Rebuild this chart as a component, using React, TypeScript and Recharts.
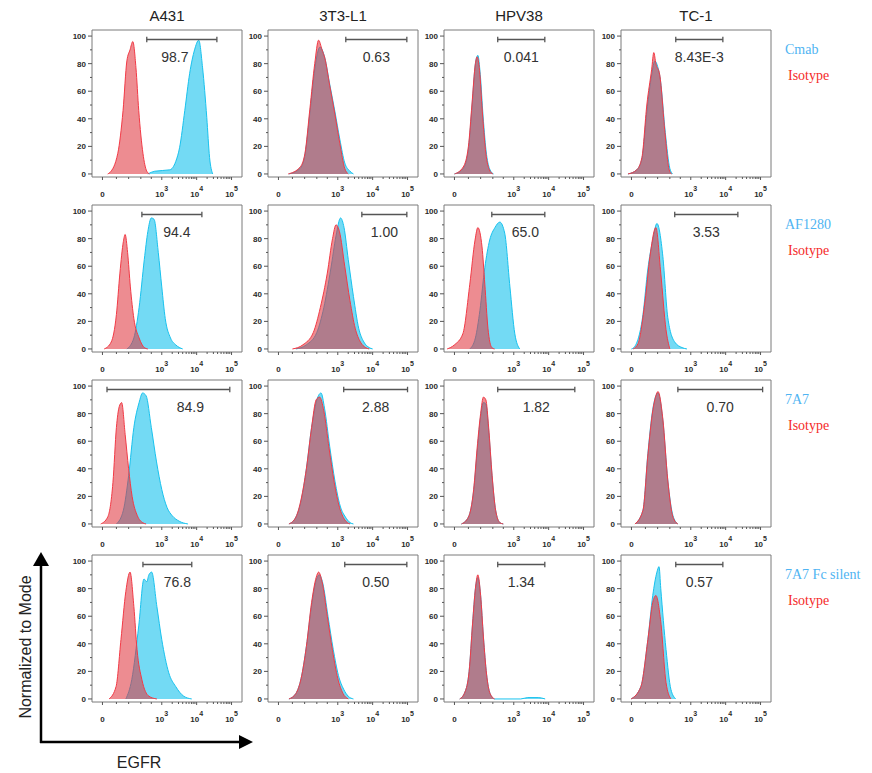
import React from 'react';
import { ComposedChart, Area, XAxis, YAxis, ReferenceLine, ReferenceArea } from 'recharts';

type Pt = [number, number];

const cellLines = ['A431', '3T3-L1', 'HPV38', 'TC-1'];
const antibodies = ['Cmab', 'AF1280', '7A7', '7A7 Fc silent'];
const isotypeName = 'Isotype';

// x is in log-decade display units (biexponential: "0" sits near 1.3)
const xTicks = [1.3, 3, 4, 5];
const xTickLabels = ['0', '10^3', '10^4', '10^5'];
const xMinorTicks = [1.7, 2.05, 2.4, 2.7, 3.3, 3.48, 3.6, 3.7, 3.78, 3.85, 3.9, 3.95, 4.3, 4.48, 4.6, 4.7, 4.78, 4.85, 4.9, 4.95];
const yTicks = [0, 10, 20, 30, 40, 50, 60, 70, 80, 90, 100];

// stained (blue) and isotype (red) histograms, one per cell line
const cmabStained: Pt[][] = [
  [[2.6, 0], [2.8, 2], [3.23, 3], [3.4, 9], [3.51, 19], [3.66, 46], [3.8, 73], [3.94, 90], [4.06, 97], [4.17, 77], [4.29, 41], [4.37, 12], [4.46, 0]],
  [[1.6, 0], [1.92, 4], [2.06, 14], [2.2, 44], [2.34, 76], [2.49, 92], [2.63, 84], [2.77, 65], [2.92, 45], [3.06, 25], [3.2, 8], [3.35, 2], [3.45, 0]],
  [[1.3, 0], [1.55, 4], [1.7, 18], [1.8, 48], [1.9, 80], [1.97, 86], [2.04, 72], [2.12, 42], [2.22, 14], [2.32, 3], [2.42, 0]],
  [[1.2, 0], [1.45, 3], [1.6, 11], [1.74, 45], [1.88, 72], [1.97, 82], [2.05, 78], [2.13, 68], [2.27, 30], [2.4, 4], [2.48, 0]],
];
const cmabIsotype: Pt[][] = [
  [[1.45, 0], [1.51, 1], [1.74, 15], [1.89, 46], [2.0, 82], [2.09, 90], [2.17, 96], [2.26, 77], [2.34, 46], [2.46, 15], [2.57, 2], [2.65, 0]],
  [[1.58, 0], [1.92, 5], [2.06, 15], [2.2, 47], [2.34, 80], [2.45, 97], [2.55, 90], [2.63, 84], [2.77, 64], [2.92, 43], [3.06, 22], [3.2, 4], [3.3, 0]],
  [[1.3, 0], [1.55, 5], [1.7, 20], [1.8, 50], [1.9, 80], [1.95, 85], [2.02, 75], [2.1, 45], [2.2, 15], [2.3, 3], [2.4, 0]],
  [[1.2, 0], [1.45, 3], [1.6, 12], [1.74, 50], [1.88, 76], [1.94, 88], [2.0, 80], [2.11, 72], [2.26, 30], [2.38, 3], [2.45, 0]],
];

const af1280Stained: Pt[][] = [
  [[2.0, 0], [2.2, 8], [2.35, 30], [2.5, 65], [2.6, 85], [2.7, 95], [2.78, 94], [2.9, 70], [3.0, 45], [3.1, 22], [3.25, 8], [3.4, 3], [3.6, 0]],
  [[1.8, 0], [2.1, 3], [2.4, 12], [2.6, 30], [2.8, 58], [2.95, 82], [3.08, 95], [3.18, 88], [3.3, 65], [3.45, 38], [3.6, 15], [3.75, 5], [3.9, 1], [4.0, 0]],
  [[1.74, 0], [1.9, 8], [2.03, 28], [2.17, 59], [2.31, 79], [2.46, 88], [2.6, 92], [2.74, 84], [2.89, 45], [3.03, 11], [3.17, 0]],
  [[1.3, 0], [1.4, 2], [1.63, 25], [1.77, 58], [1.91, 79], [2.03, 91], [2.2, 67], [2.34, 23], [2.54, 5], [2.75, 1], [2.89, 0]],
];
const af1280Isotype: Pt[][] = [
  [[1.35, 0], [1.55, 5], [1.7, 25], [1.8, 55], [1.9, 78], [1.95, 83], [2.02, 70], [2.1, 45], [2.2, 22], [2.35, 8], [2.5, 1], [2.6, 0]],
  [[1.7, 0], [2.0, 3], [2.3, 12], [2.5, 30], [2.7, 55], [2.85, 80], [2.95, 90], [3.05, 85], [3.2, 60], [3.35, 35], [3.5, 15], [3.65, 5], [3.8, 1], [3.9, 0]],
  [[1.09, 0], [1.3, 3], [1.54, 11], [1.74, 47], [1.89, 79], [1.97, 88], [2.09, 74], [2.17, 47], [2.26, 15], [2.37, 1], [2.45, 0]],
  [[1.35, 0], [1.49, 4], [1.69, 35], [1.83, 67], [2.0, 88], [2.14, 55], [2.29, 14], [2.4, 0]],
];

const sevenA7Stained: Pt[][] = [
  [[1.7, 0], [1.9, 10], [2.05, 35], [2.2, 70], [2.35, 88], [2.45, 95], [2.55, 93], [2.7, 70], [2.85, 45], [3.0, 25], [3.15, 12], [3.3, 6], [3.5, 2], [3.75, 0]],
  [[1.6, 0], [1.8, 5], [1.95, 17], [2.1, 40], [2.25, 70], [2.4, 90], [2.52, 95], [2.62, 84], [2.77, 56], [2.92, 31], [3.07, 13], [3.22, 5], [3.35, 1], [3.45, 0]],
  [[1.5, 0], [1.7, 5], [1.85, 24], [1.95, 52], [2.05, 78], [2.13, 88], [2.2, 87], [2.28, 68], [2.38, 34], [2.48, 10], [2.6, 1], [2.7, 0]],
  [[1.4, 0], [1.63, 10], [1.77, 51], [1.91, 83], [2.06, 95], [2.2, 75], [2.34, 32], [2.49, 6], [2.63, 0]],
];
const sevenA7Isotype: Pt[][] = [
  [[1.25, 0], [1.45, 5], [1.6, 30], [1.7, 70], [1.78, 85], [1.85, 88], [1.95, 65], [2.05, 40], [2.15, 20], [2.3, 6], [2.45, 1], [2.55, 0]],
  [[1.6, 0], [1.8, 5], [1.95, 18], [2.1, 40], [2.25, 70], [2.38, 90], [2.48, 92], [2.6, 82], [2.75, 55], [2.9, 30], [3.05, 12], [3.2, 3], [3.35, 0]],
  [[1.5, 0], [1.7, 5], [1.85, 25], [1.95, 55], [2.05, 80], [2.13, 92], [2.2, 90], [2.28, 70], [2.38, 35], [2.48, 10], [2.6, 1], [2.7, 0]],
  [[1.4, 0], [1.63, 10], [1.77, 50], [1.91, 82], [2.0, 93], [2.06, 96], [2.2, 76], [2.34, 32], [2.49, 5], [2.63, 0]],
];

const fcSilentStained: Pt[][] = [
  [[1.97, 0], [2.14, 14], [2.34, 53], [2.49, 87], [2.57, 85], [2.63, 90], [2.71, 92], [2.86, 67], [3.0, 43], [3.2, 19], [3.4, 9], [3.63, 2], [3.86, 0]],
  [[1.6, 0], [1.8, 4], [1.95, 15], [2.1, 38], [2.25, 68], [2.38, 86], [2.47, 90], [2.57, 84], [2.72, 60], [2.87, 36], [3.02, 17], [3.17, 7], [3.3, 2], [3.45, 0]],
  [[1.45, 0], [1.6, 5], [1.72, 20], [1.82, 55], [1.9, 80], [1.97, 88], [2.05, 75], [2.13, 45], [2.22, 18], [2.32, 4], [2.45, 0], [3.2, 0], [3.4, 1], [3.7, 1], [3.9, 0]],
  [[1.29, 0], [1.57, 9], [1.77, 43], [1.91, 75], [2.03, 92], [2.09, 96], [2.14, 80], [2.29, 36], [2.43, 7], [2.57, 0]],
];
const fcSilentIsotype: Pt[][] = [
  [[1.49, 0], [1.69, 9], [1.83, 43], [1.97, 78], [2.09, 92], [2.2, 67], [2.29, 36], [2.43, 14], [2.63, 2], [2.86, 0]],
  [[1.6, 0], [1.8, 4], [1.95, 15], [2.1, 38], [2.25, 70], [2.38, 88], [2.45, 92], [2.55, 85], [2.7, 60], [2.85, 35], [3.0, 15], [3.15, 4], [3.3, 0]],
  [[1.45, 0], [1.6, 5], [1.72, 20], [1.82, 55], [1.9, 80], [1.97, 90], [2.05, 75], [2.13, 45], [2.22, 18], [2.32, 4], [2.45, 0]],
  [[1.29, 0], [1.57, 9], [1.77, 43], [1.91, 70], [2.0, 75], [2.14, 56], [2.29, 12], [2.43, 0]],
];

// gate ranges (x from, x to) and % positive
const cmabGates: Pt[] = [[2.57, 4.58], [3.23, 4.98], [2.54, 3.89], [2.57, 3.92]];
const af1280Gates: Pt[] = [[2.43, 4.15], [3.69, 4.98], [2.37, 3.89], [2.54, 4.35]];
const sevenA7Gates: Pt[] = [[1.43, 4.95], [3.17, 5.0], [2.54, 4.75], [2.63, 5.06]];
const fcSilentGates: Pt[] = [[2.46, 3.86], [3.2, 4.98], [2.54, 3.89], [2.57, 3.92]];

const cmabPercent = ['98.7', '0.63', '0.041', '8.43E-3'];
const af1280Percent = ['94.4', '1.00', '65.0', '3.53'];
const sevenA7Percent = ['84.9', '2.88', '1.82', '0.70'];
const fcSilentPercent = ['76.8', '0.50', '1.34', '0.57'];

const rows = [
  { stained: cmabStained, isotype: cmabIsotype, gates: cmabGates, percent: cmabPercent },
  { stained: af1280Stained, isotype: af1280Isotype, gates: af1280Gates, percent: af1280Percent },
  { stained: sevenA7Stained, isotype: sevenA7Isotype, gates: sevenA7Gates, percent: sevenA7Percent },
  { stained: fcSilentStained, isotype: fcSilentIsotype, gates: fcSilentGates, percent: fcSilentPercent },
];

const X_DOMAIN: [number, number] = [1, 5.3];
const Y_DOMAIN: [number, number] = [-2.2, 104.4];
const GATE_Y = 97.5;
const SANS = '"Liberation Sans", Arial, sans-serif';
const SERIF = '"Liberation Serif", "Times New Roman", serif';
const BLUE_TEXT = '#4fb4f2';
const RED_TEXT = '#f52a2a';

const boxLefts = [92, 268, 444, 621];
const boxTops = [30, 205, 380, 555];
const BOX_W = 150;
const BOX_H = 147;
const Y_AXIS_W = 30;
const X_AXIS_H = 28;
// horizontal nudge (px) of the % text relative to the gate centre, [row][col]
const labelNudge = [
  [-7, 0, 0, 0],
  [5, 0, 7, 0],
  [22, 0, 0, 0],
  [10, 0, 0, 0],
];

const allXTicks = [...xTicks, ...xMinorTicks].sort((a, b) => a - b);
const toPoints = (pts: Pt[]) => pts.map(([x, y]) => ({ x, y }));

const XTick = (props: any) => {
  const { x, y, payload } = props;
  const i = xTicks.indexOf(payload.value);
  const major = i >= 0;
  const [base, exp] = major ? xTickLabels[i].split('^') : ['', ''];
  return (
    <g>
      <line x1={x} x2={x} y1={y} y2={y + (major ? 3 : 2)} stroke="#555" strokeWidth={1} />
      {major && (
        <text x={x} y={y + 20} textAnchor="middle" fontSize={8} fontWeight="bold" fill="#2a2a2a" fontFamily={SANS}>
          {base}
          {exp && (
            <tspan dy={-6} fontSize={7}>
              {exp}
            </tspan>
          )}
        </text>
      )}
    </g>
  );
};

const YTick = (props: any) => {
  const { x, y, payload } = props;
  const major = payload.value % 20 === 0;
  return (
    <g>
      <line x1={x} x2={x - (major ? 4 : 2)} y1={y} y2={y} stroke="#555" strokeWidth={1} />
      {major && (
        <text x={x - 6} y={y + 3} textAnchor="end" fontSize={8} fontWeight="bold" fill="#2a2a2a" fontFamily={SANS}>
          {payload.value}
        </text>
      )}
    </g>
  );
};

function Panel({ stained, isotype, gate, percent, nudge }: { stained: Pt[]; isotype: Pt[]; gate: Pt; percent: string; nudge: number }) {
  const gateLabel = (props: any) => {
    const vb = props.viewBox || {};
    return (
      <text x={vb.x + vb.width / 2 + nudge} y={vb.y + 22} textAnchor="middle" fontSize={14} fill="#333" fontFamily={SANS}>
        {percent}
      </text>
    );
  };
  return (
    <ComposedChart width={Y_AXIS_W + BOX_W + 4} height={2 + BOX_H + X_AXIS_H} margin={{ top: 2, right: 4, bottom: 0, left: 0 }}>
      <XAxis
        type="number"
        dataKey="x"
        domain={X_DOMAIN}
        allowDataOverflow
        ticks={allXTicks}
        interval={0}
        tick={<XTick />}
        tickLine={false}
        axisLine={false}
        tickSize={0}
        tickMargin={0}
        height={X_AXIS_H}
      />
      <YAxis
        type="number"
        domain={Y_DOMAIN}
        allowDataOverflow
        ticks={yTicks}
        interval={0}
        tick={<YTick />}
        tickLine={false}
        axisLine={false}
        tickSize={0}
        tickMargin={0}
        width={Y_AXIS_W}
      />
      <Area
        data={toPoints(stained)}
        dataKey="y"
        type="monotone"
        stroke="#18c2ee"
        strokeWidth={1}
        fill="#00bceb"
        fillOpacity={0.55}
        dot={false}
        activeDot={false}
        isAnimationActive={false}
      />
      <Area
        data={toPoints(isotype)}
        dataKey="y"
        type="monotone"
        stroke="#f23a46"
        strokeWidth={1}
        fill="#e0343e"
        fillOpacity={0.57}
        dot={false}
        activeDot={false}
        isAnimationActive={false}
      />
      <ReferenceArea x1={X_DOMAIN[0]} x2={X_DOMAIN[1]} y1={Y_DOMAIN[0]} y2={Y_DOMAIN[1]} fill="none" stroke="#7a7a7a" strokeWidth={1} ifOverflow="visible" />
      <ReferenceLine
        segment={[{ x: gate[0], y: GATE_Y }, { x: gate[1], y: GATE_Y }]}
        stroke="#555"
        strokeWidth={1.3}
        ifOverflow="visible"
        label={{ content: gateLabel }}
      />
      <ReferenceLine segment={[{ x: gate[0], y: GATE_Y - 2 }, { x: gate[0], y: GATE_Y + 2 }]} stroke="#555" strokeWidth={1.3} ifOverflow="visible" />
      <ReferenceLine segment={[{ x: gate[1], y: GATE_Y - 2 }, { x: gate[1], y: GATE_Y + 2 }]} stroke="#555" strokeWidth={1.3} ifOverflow="visible" />
    </ComposedChart>
  );
}

export default function App() {
  return (
    <div style={{ position: 'absolute', left: 0, top: 0, width: 872, height: 773, background: '#fff', overflow: 'hidden' }}>
      <svg width={872} height={773} style={{ position: 'absolute', left: 0, top: 0 }}>
        {cellLines.map((name, c) => (
          <text key={name} x={boxLefts[c] + BOX_W / 2} y={15} textAnchor="middle" dominantBaseline="central" fontSize={15} fill="#222" fontFamily={SANS}>
            {name}
          </text>
        ))}
        {antibodies.map((name, r) => (
          <g key={name}>
            <text x={785} y={boxTops[r] + 19} dominantBaseline="central" fontSize={14} fill={BLUE_TEXT} fontFamily={SERIF}>
              {name}
            </text>
            <text x={788} y={boxTops[r] + 45} dominantBaseline="central" fontSize={14} fill={RED_TEXT} fontFamily={SERIF}>
              {isotypeName}
            </text>
          </g>
        ))}
        <line x1={41} y1={743} x2={41} y2={563} stroke="#000" strokeWidth={2.5} />
        <polygon points="41,552 33,566 49,566" fill="#000" />
        <line x1={40} y1={742} x2={242} y2={742} stroke="#000" strokeWidth={2.5} />
        <polygon points="253,742 239,735 239,749" fill="#000" />
        <text x={25} y={647} transform="rotate(-90 25 647)" textAnchor="middle" dominantBaseline="central" fontSize={16} fill="#222" fontFamily={SANS}>
          Normalized to Mode
        </text>
        <text x={139} y={762} textAnchor="middle" dominantBaseline="central" fontSize={16} fill="#222" fontFamily={SANS}>
          EGFR
        </text>
      </svg>
      {rows.map((row, r) =>
        cellLines.map((name, c) => (
          <div key={`${r}-${c}`} style={{ position: 'absolute', left: boxLefts[c] - Y_AXIS_W, top: boxTops[r] - 2 }}>
            <Panel stained={row.stained[c]} isotype={row.isotype[c]} gate={row.gates[c]} percent={row.percent[c]} nudge={labelNudge[r][c]} />
          </div>
        ))
      )}
    </div>
  );
}
